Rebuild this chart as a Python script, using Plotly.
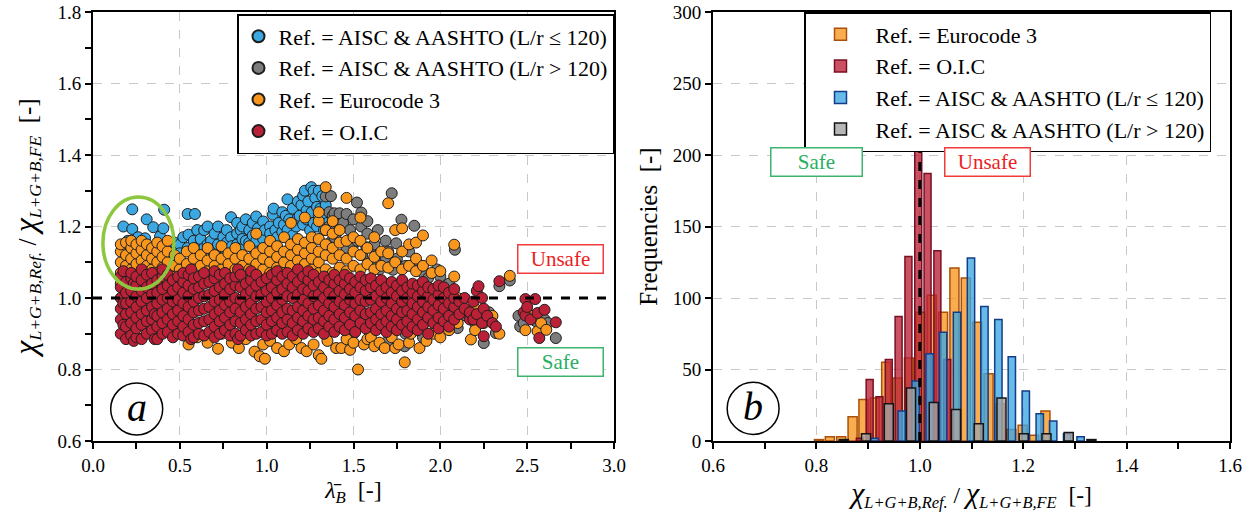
import plotly.graph_objects as go

FONT = "Liberation Serif, Times New Roman, Tinos, serif"

# ---------------- Left panel: scatter clouds, columns of (lambda_B, [ratios]) ----------------
red_cols = [
    (0.16, [0.90, 0.94, 0.97, 1.00, 1.03, 1.06]),
    (0.175, [0.925, 0.985, 1.075]),
    (0.19, [0.885, 0.92, 0.955, 0.985, 1.015, 1.045]),
    (0.22, [0.895, 0.93, 0.96, 0.99, 1.02, 1.055, 1.07]),
    (0.235, [0.88, 1.04]),
    (0.25, [0.89, 0.915, 0.945, 0.975, 1.005, 1.035, 1.06]),
    (0.28, [0.885, 0.925, 0.955, 0.99, 1.02, 1.05, 1.08]),
    (0.31, [0.90, 0.935, 0.965, 1.00, 1.03, 1.065]),
    (0.34, [0.91, 0.94, 0.975, 1.01, 1.04, 1.07]),
    (0.355, [0.885, 0.955]),
    (0.37, [0.885, 0.92, 0.95, 0.985, 1.015, 1.05]),
    (0.40, [0.90, 0.93, 0.96, 0.995, 1.025, 1.06, 1.08]),
    (0.43, [0.905, 0.94, 0.97, 1.00, 1.035, 1.065]),
    (0.46, [0.89, 0.925, 0.955, 0.99, 1.02, 1.05]),
    (0.49, [0.90, 0.935, 0.965, 0.995, 1.03, 1.06]),
    (0.52, [0.895, 0.92, 0.95, 0.985, 1.015, 1.045, 1.07]),
    (0.55, [0.905, 0.94, 0.975, 1.005, 1.035, 1.065]),
    (0.565, [0.885, 1.08]),
    (0.58, [0.89, 0.925, 0.96, 0.99, 1.025, 1.055]),
    (0.61, [0.90, 0.93, 0.965, 1.00, 1.03, 1.06]),
    (0.64, [0.895, 0.935, 0.97, 1.005, 1.04, 1.07]),
    (0.67, [0.905, 0.94, 0.975, 1.01, 1.045]),
    (0.70, [0.89, 0.92, 0.955, 0.99, 1.02, 1.055, 1.075]),
    (0.73, [0.90, 0.935, 0.965, 0.995, 1.03, 1.065]),
    (0.76, [0.91, 0.945, 0.98, 1.01, 1.04, 1.07]),
    (0.79, [0.895, 0.925, 0.96, 0.99, 1.025, 1.055]),
    (0.82, [0.90, 0.935, 0.97, 1.00, 1.035, 1.06]),
    (0.835, [0.885, 1.08]),
    (0.85, [0.895, 0.93, 0.96, 0.995, 1.03, 1.065]),
    (0.88, [0.91, 0.94, 0.975, 1.01, 1.04]),
    (0.91, [0.895, 0.925, 0.955, 0.985, 1.02, 1.05, 1.075]),
    (0.94, [0.90, 0.935, 0.97, 1.005, 1.035, 1.065]),
    (0.97, [0.905, 0.94, 0.975, 1.01, 1.045]),
    (1.00, [0.895, 0.925, 0.96, 0.99, 1.02, 1.055]),
    (1.03, [0.90, 0.935, 0.965, 1.00, 1.03, 1.065]),
    (1.06, [0.91, 0.945, 0.98, 1.015, 1.05, 1.075]),
    (1.09, [0.90, 0.93, 0.96, 0.995, 1.025, 1.06]),
    (1.12, [0.905, 0.94, 0.97, 1.005, 1.04, 1.07]),
    (1.15, [0.895, 0.93, 0.965, 1.00, 1.03, 1.06]),
    (1.18, [0.91, 0.945, 0.975, 1.01, 1.045, 1.08]),
    (1.21, [0.90, 0.935, 0.965, 0.995, 1.025, 1.06]),
    (1.24, [0.915, 0.95, 0.985, 1.02, 1.05, 1.075]),
    (1.27, [0.905, 0.94, 0.97, 1.005, 1.035, 1.065]),
    (1.30, [0.915, 0.945, 0.98, 1.01, 1.045]),
    (1.33, [0.90, 0.935, 0.965, 1.00, 1.03, 1.06]),
    (1.36, [0.92, 0.95, 0.985, 1.015, 1.05]),
    (1.39, [0.905, 0.94, 0.975, 1.005, 1.04, 1.065]),
    (1.42, [0.92, 0.955, 0.99, 1.02, 1.05]),
    (1.45, [0.91, 0.945, 0.98, 1.01, 1.04, 1.065]),
    (1.48, [0.925, 0.96, 0.995, 1.025, 1.055]),
    (1.51, [0.905, 0.95, 0.985, 1.015, 1.045]),
    (1.54, [0.93, 0.965, 0.995, 1.03, 1.06]),
    (1.57, [0.915, 0.955, 0.99, 1.02, 1.05]),
    (1.60, [0.93, 0.96, 0.995, 1.03, 1.055]),
    (1.63, [0.91, 0.94, 0.97, 1.005, 1.035]),
    (1.66, [0.925, 0.955, 0.99, 1.02, 1.05]),
    (1.69, [0.905, 0.935, 0.965, 1.00, 1.03]),
    (1.72, [0.92, 0.95, 0.985, 1.015, 1.045]),
    (1.75, [0.91, 0.94, 0.97, 1.005, 1.035]),
    (1.78, [0.925, 0.96, 0.99, 1.02, 1.05]),
    (1.81, [0.905, 0.935, 0.965, 1.00, 1.03]),
    (1.84, [0.92, 0.955, 0.985, 1.015, 1.04]),
    (1.87, [0.91, 0.94, 0.975, 1.005, 1.035]),
    (1.90, [0.925, 0.96, 0.99, 1.02, 1.045]),
    (1.93, [0.90, 0.945, 0.975, 1.005, 1.03]),
    (1.96, [0.93, 0.965, 0.995, 1.025]),
    (1.99, [0.915, 0.945, 0.98, 1.01, 1.035]),
    (2.02, [0.935, 0.97, 1.00, 1.03]),
    (2.05, [0.92, 0.95, 0.985, 1.015]),
    (2.08, [0.94, 0.975, 1.00, 1.025]),
    (2.11, [0.955, 0.99]),
    (2.14, [0.97, 1.00]), (2.17, [0.94, 0.96]), (2.19, [0.94, 0.99]),
    (2.21, [0.955, 1.02]), (2.22, [1.033]), (2.24, [0.93, 1.00]),
    (2.25, [0.893, 0.97]), (2.27, [0.95]), (2.30, [0.93]), (2.32, [0.92]),
    (2.34, [1.047]), (2.48, [0.96]), (2.49, [0.951, 0.997]), (2.50, [0.975]),
    (2.52, [0.94]), (2.546, [0.997]), (2.56, [0.958]), (2.57, [0.888]),
    (2.60, [0.967]), (2.665, [0.932]),
]

orange_cols = [
    (0.16, [1.04, 1.07, 1.10, 1.13, 1.15]),
    (0.19, [1.03, 1.06, 1.09, 1.12, 1.155]),
    (0.22, [1.05, 1.08, 1.11, 1.14, 1.16]),
    (0.25, [1.035, 1.065, 1.095, 1.125, 1.15]),
    (0.28, [1.045, 1.075, 1.105, 1.135, 1.16]),
    (0.31, [1.03, 1.06, 1.09, 1.12, 1.15]),
    (0.34, [1.05, 1.08, 1.11, 1.14]),
    (0.37, [1.04, 1.07, 1.10, 1.13, 1.155]),
    (0.40, [1.055, 1.085, 1.115, 1.145]),
    (0.43, [1.04, 1.07, 1.10, 1.13, 1.16]),
    (0.47, [1.06, 1.09, 1.12, 0.905]),
    (0.50, [1.05, 1.08, 1.11]),
    (0.54, [1.065, 1.095, 1.13, 0.93]),
    (0.55, [0.87]),
    (0.58, [1.05, 1.08, 1.11, 1.14]),
    (0.60, [0.89]),
    (0.62, [1.06, 1.09, 1.12]),
    (0.66, [1.045, 1.075, 1.105, 1.14, 0.875]),
    (0.70, [1.06, 1.09, 1.12]),
    (0.72, [0.858]),
    (0.74, [1.05, 1.08, 1.11, 1.145, 0.90]),
    (0.78, [1.065, 1.095, 1.125]),
    (0.80, [0.875, 0.93]),
    (0.82, [1.05, 1.08, 1.11, 1.14]),
    (0.84, [0.86]),
    (0.86, [1.06, 1.09, 1.12]),
    (0.88, [0.885]),
    (0.90, [1.05, 1.08, 1.11, 1.145]),
    (0.93, [0.85]),
    (0.94, [1.065, 1.095, 1.125, 1.18]),
    (0.96, [0.837]),
    (0.98, [1.05, 1.08, 1.11, 1.14, 0.87]),
    (0.99, [0.83]),
    (1.02, [1.07, 1.10, 1.13, 1.16, 0.88]),
    (1.06, [1.055, 1.085, 1.115, 1.145, 0.86]),
    (1.10, [1.07, 1.10, 1.13, 1.17, 0.851]),
    (1.13, [0.87]),
    (1.14, [1.06, 1.09, 1.12, 1.15, 1.21]),
    (1.17, [0.885]),
    (1.18, [1.075, 1.105, 1.135, 1.165]),
    (1.20, [0.86]),
    (1.22, [1.065, 1.095, 1.125, 1.155, 1.225]),
    (1.23, [0.851]),
    (1.25, [0.93]),
    (1.26, [1.08, 1.11, 1.14, 1.17]),
    (1.27, [0.87]),
    (1.30, [1.07, 1.10, 1.13, 1.165, 1.215, 1.24, 0.84]),
    (1.315, [0.83]),
    (1.34, [1.08, 1.12, 1.15, 1.19, 1.31]),
    (1.35, [0.88]),
    (1.38, [1.07, 1.11, 1.14, 1.18, 1.215]),
    (1.40, [0.86, 0.92]),
    (1.42, [1.085, 1.12, 1.155, 1.19]),
    (1.43, [0.86]),
    (1.46, [1.075, 1.11, 1.16, 1.28, 0.885]),
    (1.48, [0.855]),
    (1.50, [1.09, 1.13, 1.17, 0.875]),
    (1.526, [0.80]),
    (1.54, [1.08, 1.12, 1.16, 1.225]),
    (1.55, [0.95]),
    (1.56, [0.87]),
    (1.58, [1.095, 1.14, 0.885]),
    (1.60, [0.89]),
    (1.62, [1.08, 1.115, 1.17, 0.865]),
    (1.65, [0.875]),
    (1.66, [1.09, 1.13]),
    (1.68, [0.86]),
    (1.70, [1.085, 1.125, 1.265, 0.92]),
    (1.72, [0.89]),
    (1.74, [1.10, 1.19, 0.86]),
    (1.76, [0.87]),
    (1.78, [1.08, 1.13, 1.195]),
    (1.795, [0.82]),
    (1.82, [1.09, 1.15, 0.875]),
    (1.83, [0.90]),
    (1.85, [0.95]),
    (1.86, [1.075, 1.11, 1.155]),
    (1.88, [0.86]),
    (1.90, [1.09, 1.175]),
    (1.92, [0.88]),
    (1.95, [1.07, 1.105]),
    (1.96, [0.90]),
    (1.98, [0.97]),
    (2.00, [1.075, 0.89]),
    (2.05, [0.91]),
    (2.06, [0.98]),
    (2.08, [1.06, 1.149]),
    (2.10, [0.93, 1.00]),
    (2.176, [0.884]),
    (2.20, [0.91, 0.97]),
    (2.25, [0.93]),
    (2.30, [0.95]),
    (2.34, [0.90]),
    (2.40, [1.062]),
    (2.49, [0.91]),
    (2.52, [0.95]),
    (2.56, [0.907]),
    (2.58, [0.93]),
    (2.61, [0.911]),
]

blue_cols = [
    (0.175, [1.20]), (0.20, [1.16]), (0.226, [1.248, 1.193]), (0.26, [1.17]),
    (0.30, [1.167]), (0.309, [1.22]), (0.347, [1.198]), (0.386, [1.172]),
    (0.405, [1.195]), (0.41, [1.247]), (0.43, [1.15]), (0.47, [1.13, 1.155]),
    (0.50, [1.15, 1.125]), (0.52, [1.17]), (0.545, [1.235, 1.14]), (0.55, [1.177]),
    (0.58, [1.16]), (0.587, [1.235]), (0.60, [1.19, 1.14]), (0.62, [1.12, 1.165]),
    (0.64, [1.14, 1.19]), (0.66, [1.20, 1.15]), (0.68, [1.16, 1.135]), (0.70, [1.18, 1.13]),
    (0.72, [1.15, 1.2]), (0.75, [1.17, 1.14]), (0.77, [1.19, 1.155]), (0.795, [1.226, 1.17]),
    (0.80, [1.145, 0.99]), (0.83, [1.18, 1.21, 1.15]), (0.85, [1.14, 1.19]), (0.86, [1.20, 1.165]),
    (0.88, [1.16, 1.22]), (0.90, [1.19, 1.155]), (0.92, [1.21, 1.14, 1.175]), (0.94, [1.228, 1.16]),
    (0.95, [1.195]), (0.98, [1.214, 1.165]), (0.99, [1.19]), (1.02, [1.20, 1.18]),
    (1.036, [1.233]), (1.04, [1.25, 1.16]), (1.05, [1.19]), (1.06, [1.17]),
    (1.07, [1.21]), (1.09, [1.24, 1.185]), (1.10, [1.205]), (1.11, [1.23]),
    (1.12, [1.276, 1.19]), (1.13, [1.22]), (1.15, [1.25, 1.175]), (1.17, [1.20]),
    (1.18, [1.27, 1.225]), (1.19, [1.23]), (1.20, [1.26, 0.96]), (1.21, [1.286, 1.205]),
    (1.22, [1.30]), (1.23, [1.22, 1.245]), (1.24, [1.27]), (1.25, [1.19]),
    (1.257, [1.31]), (1.26, [1.24]), (1.27, [1.30, 1.21]), (1.28, [1.28]),
    (1.29, [1.20, 1.255]), (1.30, [1.30, 1.23]), (1.31, [1.25]), (1.32, [1.22, 1.285]),
    (1.33, [1.19]), (1.34, [1.26]), (1.35, [1.21]),
]

gray_cols = [
    (1.34, [1.284]), (1.36, [1.20, 1.24]), (1.37, [1.285]), (1.372, [1.158]),
    (1.38, [1.23]), (1.39, [1.237, 1.17]), (1.40, [1.18]), (1.42, [1.237, 1.205]),
    (1.44, [1.21]), (1.46, [1.14, 1.235]), (1.48, [1.19]), (1.50, [1.22, 0.90, 1.15]),
    (1.52, [1.267, 1.16]), (1.545, [1.239, 1.2]), (1.55, [1.12]), (1.574, [1.142]),
    (1.58, [1.18, 1.215]), (1.60, [1.10, 0.92]), (1.61, [1.146]), (1.62, [1.15]),
    (1.64, [1.19]), (1.65, [1.08]), (1.67, [1.112]), (1.685, [1.114, 1.16]),
    (1.70, [1.13, 0.88]), (1.72, [1.293]), (1.727, [1.079]), (1.746, [1.153]),
    (1.75, [1.11]), (1.776, [1.219]), (1.795, [0.865]), (1.80, [1.09, 0.90]),
    (1.82, [1.13]), (1.85, [1.202]), (1.86, [1.10]), (1.90, [1.07, 0.89]),
    (1.93, [1.056]), (1.98, [1.08]), (2.00, [1.06, 0.92]), (2.05, [1.04]),
    (2.084, [1.135]), (2.10, [0.916]), (2.15, [0.95]), (2.20, [0.93]),
    (2.25, [0.874]), (2.28, [0.96]), (2.32, [0.902]), (2.34, [1.033]),
    (2.40, [1.049]), (2.45, [0.95]), (2.46, [0.92]), (2.48, [0.93]),
    (2.50, [0.96]), (2.55, [0.935]), (2.60, [0.94]), (2.62, [0.93]),
    (2.665, [0.888]),
]

# ---------------- Right panel: histogram bins (centre, count) ----------------
orange_bins = [0.805, 0.826, 0.848, 0.870, 0.891, 0.913, 0.935, 0.957, 0.979, 1.001, 1.023,
               1.045, 1.067, 1.089, 1.111, 1.133, 1.155, 1.177, 1.199, 1.221, 1.243]
orange_counts = [1, 3, 3, 17, 29, 30, 55, 44, 58, 90, 102, 90, 121, 114, 83, 47, 26, 8, 11, 4, 21]

red_bins = [0.884, 0.903, 0.922, 0.940, 0.959, 0.978, 0.997, 1.015, 1.034, 1.053]
red_counts = [2, 43, 31, 57, 87, 129, 206, 187, 133, 57]

blue_bins = [0.9125, 0.965, 0.992, 1.019, 1.045, 1.072, 1.099, 1.125, 1.152, 1.178,
             1.205, 1.232, 1.258, 1.285, 1.311]
blue_counts = [2, 21, 42, 61, 76, 90, 128, 94, 85, 59, 35, 19, 14, 5, 3]

gray_bins = [0.853, 0.896, 0.940, 0.983, 1.027, 1.070, 1.114, 1.158, 1.201, 1.245, 1.288, 1.332]
gray_counts = [1, 5, 26, 37, 27, 22, 12, 30, 5, 5, 6, 1]

names = ["Ref. = AISC & AASHTO (L/r ≤ 120)", "Ref. = AISC & AASHTO (L/r > 120)",
         "Ref. = Eurocode 3", "Ref. = O.I.C"]

C_BLUE = "rgb(59,168,226)"
C_GRAY = "rgb(125,125,125)"
C_ORANGE = "rgb(248,150,30)"
C_RED = "rgb(186,32,54)"


def expand(cols):
    xs, ys = [], []
    for x, yl in cols:
        for y in yl:
            xs.append(x)
            ys.append(y)
    return xs, ys


fig = go.Figure()

for cols, name, col in [(blue_cols, names[0], C_BLUE), (gray_cols, names[1], C_GRAY),
                        (orange_cols, names[2], C_ORANGE), (red_cols, names[3], C_RED)]:
    xs, ys = expand(cols)
    fig.add_trace(go.Scatter(
        x=xs, y=ys, mode="markers", name=name, xaxis="x", yaxis="y", legend="legend",
        marker=dict(size=11, color=col, line=dict(color="rgb(30,30,30)", width=1)),
    ))

hist_specs = [
    (orange_bins, orange_counts, names[2], "rgba(248,150,30,0.78)", "rgb(170,80,10)", 0.0175),
    (red_bins, red_counts, names[3], "rgba(186,32,54,0.78)", "rgb(120,15,35)", 0.0135),
    (blue_bins, blue_counts, names[0], "rgba(59,168,226,0.78)", "rgb(20,60,140)", 0.0142),
    (gray_bins, gray_counts, names[1], "rgba(165,165,165,0.8)", "rgb(20,20,20)", 0.0175),
]
for bx, by, name, fc, lc, w in hist_specs:
    fig.add_trace(go.Bar(
        x=bx, y=by, width=[w] * len(bx), name=name, xaxis="x2", yaxis="y2", legend="legend2",
        marker=dict(color=fc, line=dict(color=lc, width=1.5)),
    ))

# page geometry: plot areas at x 93..614 and 713..1230, y 12..441
ML, MR, MT, MB = 93, 25, 12, 78
PW = 1255 - ML - MR
PH = 519 - MT - MB


def px_x(p):
    return (p - ML) / PW


def px_y(p):
    return 1 - (p - MT) / PH


tickfont = dict(family=FONT, size=19, color="black")
grid = dict(showgrid=True, gridcolor="rgb(200,200,200)", griddash="dash", gridwidth=1)
axis_common = dict(showline=True, linecolor="black", linewidth=2, mirror=True,
                   ticks="outside", ticklen=6, tickwidth=1.5, tickcolor="black",
                   zeroline=False, tickfont=tickfont, automargin=False, **grid)


def ratio_title(chi_size):
    chi = f'<span style="font-size:{chi_size}px"><i>χ</i></span>'
    return f"{chi}<sub><i>L+G+B,Ref.</i></sub> / {chi}<sub><i>L+G+B,FE</i></sub>  [-]"


fig.update_layout(
    width=1255, height=519,
    margin=dict(l=ML, r=MR, t=MT, b=MB, autoexpand=False),
    paper_bgcolor="white", plot_bgcolor="white",
    barmode="overlay",
    font=dict(family=FONT, color="black"),
    xaxis=dict(domain=[0, px_x(614)], range=[0, 3], dtick=0.5, tickformat=".1f",
               minor=dict(dtick=0.25, ticks="outside", ticklen=6, tickcolor="black", showgrid=False),
               title=dict(text="<i>λ̄</i><sub><i>B</i></sub>  [-]", font=dict(family=FONT, size=24), standoff=6),
               **axis_common),
    yaxis=dict(domain=[0, 1], range=[0.6, 1.8], dtick=0.2, tickformat=".1f",
               minor=dict(dtick=0.1, ticks="outside", ticklen=6, tickcolor="black", showgrid=False),
               title=dict(text=ratio_title(32), font=dict(family=FONT, size=25), standoff=14),
               **axis_common),
    xaxis2=dict(domain=[px_x(713), 1], range=[0.6, 1.6], dtick=0.2, tickformat=".1f",
                minor=dict(dtick=0.1, ticks="outside", ticklen=6, tickcolor="black", showgrid=False),
                title=dict(text=ratio_title(30), font=dict(family=FONT, size=23.5), standoff=6),
                anchor="y2", **axis_common),
    yaxis2=dict(domain=[0, 1], range=[0, 300], dtick=50, anchor="x2",
                title=dict(text="Frequencies  [-]", font=dict(family=FONT, size=25), standoff=8),
                **axis_common),
    legend=dict(x=px_x(237), y=px_y(14), xanchor="left", yanchor="top",
                bgcolor="white", bordercolor="black", borderwidth=1.5,
                font=dict(family=FONT, size=22, color="black"), itemsizing="constant",
                itemwidth=30, tracegroupgap=0),
    legend2=dict(x=px_x(804), y=px_y(12), xanchor="left", yanchor="top",
                 bgcolor="white", bordercolor="black", borderwidth=1.5,
                 font=dict(family=FONT, size=22, color="black"), itemwidth=60, tracegroupgap=0),
)

shapes = [
    dict(type="line", xref="x", yref="y", x0=0, x1=3, y0=1.0, y1=1.0,
         line=dict(color="black", width=3, dash="dash")),
    dict(type="circle", xref="x", yref="y", x0=0.057, x1=0.466, y0=1.025, y1=1.2825,
         line=dict(color="rgb(141,198,63)", width=3.5)),
    dict(type="circle", xref="x", yref="y", x0=0.2516 - 0.1497, x1=0.2516 + 0.1497,
         y0=0.6895 - 0.0727, y1=0.6895 + 0.0727, line=dict(color="black", width=1.5),
         fillcolor="white", layer="above"),
    dict(type="line", xref="x2", yref="y2", x0=1.0, x1=1.0, y0=0, y1=300,
         line=dict(color="black", width=3, dash="dash")),
    dict(type="circle", xref="x2", yref="y2", x0=0.6776 - 0.0502, x1=0.6776 + 0.0502,
         y0=22.8 - 18.2, y1=22.8 + 18.2, line=dict(color="black", width=1.5),
         fillcolor="white", layer="above"),
]
fig.update_layout(shapes=shapes)

red_txt = "rgb(235,30,35)"
green_txt = "rgb(40,175,95)"
ann = [
    dict(xref="x", yref="y", x=2.694, y=1.1105, text="Unsafe", showarrow=False,
         font=dict(family=FONT, size=21, color=red_txt), bordercolor="rgb(240,60,60)",
         borderwidth=1.5, bgcolor="white", width=82, height=25, borderpad=1),
    dict(xref="x", yref="y", x=2.694, y=0.8196, text="Safe", showarrow=False,
         font=dict(family=FONT, size=21, color=green_txt), bordercolor="rgb(60,180,110)",
         borderwidth=1.5, bgcolor="white", width=82, height=25, borderpad=1),
    dict(xref="x2", yref="y2", x=0.801, y=195.3, text="Safe", showarrow=False,
         font=dict(family=FONT, size=21, color=green_txt), bordercolor="rgb(60,180,110)",
         borderwidth=1.5, bgcolor="white", width=88, height=25, borderpad=1),
    dict(xref="x2", yref="y2", x=1.131, y=195.3, text="Unsafe", showarrow=False,
         font=dict(family=FONT, size=21, color=red_txt), bordercolor="rgb(240,60,60)",
         borderwidth=1.5, bgcolor="white", width=82, height=25, borderpad=1),
    dict(xref="x", yref="y", x=0.2516, y=0.6895, text="<i>a</i>", showarrow=False,
         font=dict(family=FONT, size=40, color="black"), yshift=2),
    dict(xref="x2", yref="y2", x=0.6776, y=22.8, text="<i>b</i>", showarrow=False,
         font=dict(family=FONT, size=40, color="black"), yshift=2),
]
fig.update_layout(annotations=ann)

fig.write_html("out.html")
